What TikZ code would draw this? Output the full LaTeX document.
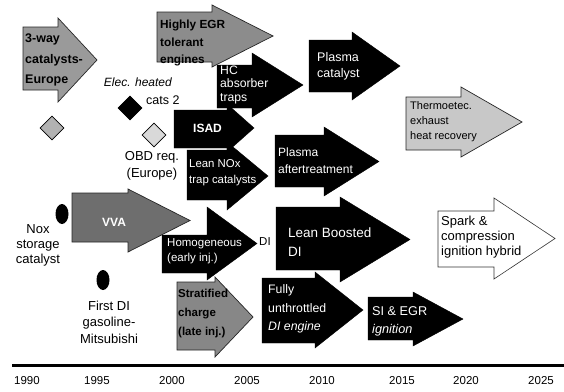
\documentclass[tikz,border=0pt]{standalone}
\usepackage{fontspec}
\setmainfont{Liberation Sans}
\usetikzlibrary{shapes.geometric}
% style, body left x, body top y, body bottom y, head x, head top y, head bottom y, tip x
\newcommand{\harrow}[8]{\path[#1] (#2,#3) -- (#5,#3) -- (#5,#6) -- (#8,{(#6+#7)/2}) -- (#5,#7) -- (#5,#4) -- (#2,#4) -- cycle;}
\newcommand{\fsz}[2]{\fontsize{#1}{#2}\selectfont}
\definecolor{gA}{HTML}{9A9A9A}
\definecolor{gB}{HTML}{8C8C8C}
\definecolor{gC}{HTML}{6E6E6E}
\definecolor{gD}{HTML}{878787}
\definecolor{gE}{HTML}{C8C8C8}
\tikzset{
  blk/.style={fill=black, draw=black},
  grey/.style={fill=#1, draw=black!85, line width=0.7pt},
  hollow/.style={fill=white, draw=black!80, line width=0.6pt},
  txt/.style={inner sep=0pt, align=left, anchor=west},
  wtxt/.style={txt, text=white},
  plain/.style={inner sep=0pt, align=center},
  dot/.style={ellipse, fill=black, inner sep=0pt, minimum width=13pt, minimum height=20pt},
  dmd/.style={diamond, draw=black, line width=0.8pt, fill=#1, inner sep=0pt, minimum width=24pt, minimum height=24pt},
  year/.style={inner sep=0pt, font=\fsz{11.5}{13}}
}
\begin{document}
\begin{tikzpicture}[x=1pt,y=-1pt]
\useasboundingbox (0,0) rectangle (564,391);
\fill[white] (0,0) rectangle (564,391);

% arrows
\harrow{grey=gA}{23}{27}{90}{58}{18}{102}{97}
\harrow{grey=gB}{157}{12}{62}{212}{5}{67}{273}
\harrow{blk}{309}{40}{92}{352}{32}{100}{400}
\harrow{blk}{217}{65}{108}{252}{53}{117}{303}
\harrow{blk}{174}{110}{148}{227}{104}{152}{254}
\harrow{blk}{187}{150}{200}{227}{142}{210}{268}
\harrow{blk}{275}{135}{187}{324}{127}{196}{379}
\harrow{grey=gE}{406}{97}{150}{461}{87}{157}{522}
\harrow{grey=gC}{72}{193}{242}{128}{189}{252}{190}
\harrow{blk}{162}{235}{273}{207}{207}{280}{257}
\harrow{blk}{276}{207}{270}{340}{197}{282}{410}
\harrow{hollow}{438}{211}{267}{494}{198}{279}{555}
\harrow{grey=gD}{177}{282}{350}{215}{277}{357}{253}
\harrow{blk}{262}{278}{343}{315}{272}{348}{363}
\harrow{blk}{368}{297}{340}{413}{292}{346}{463}

% arrow texts
\node[txt, font=\bfseries\fsz{12.5}{20.5}] (threeway) at (25,60) {3-way\\catalysts-\\Europe};
\node[txt, font=\bfseries\fsz{11.8}{17.5}] (egr) at (160,43) {Highly EGR\\tolerant\\engines};
\node[wtxt, font=\fsz{12.5}{16}] (plcat) at (317,66) {Plasma\\catalyst};
\node[wtxt, font=\fsz{12.2}{13.5}] (hc) at (220,85) {HC\\absorber\\traps};
\node[wtxt, font=\bfseries\fsz{12}{14}] (isad) at (193,128) {ISAD};
\node[wtxt, font=\fsz{11.4}{16}] (lnt) at (189,173) {Lean NOx\\trap catalysts};
\node[wtxt, font=\fsz{12}{17}] (plaft) at (278,161) {Plasma\\aftertreatment};
\node[txt, font=\fsz{11}{15}] (thermo) at (410,122) {Thermoetec.\\exhaust\\heat recovery};
\node[wtxt, font=\bfseries\fsz{12}{14}] (vva) at (102,222) {VVA};
\node[wtxt, font=\fsz{11.5}{15}] (homo) at (167,251) {Homogeneous\\(early inj.)};
\node[txt, font=\fsz{11.5}{14}] (di) at (259,242) {DI};
\node[wtxt, font=\fsz{13.5}{19}] (lbdi) at (288,242) {Lean Boosted\\DI};
\node[txt, font=\fsz{13}{15}] (spark) at (441,237) {Spark \&\\compression\\ignition hybrid};
\node[txt, font=\bfseries\fsz{11.5}{19}] (strat) at (178,314) {Stratified\\charge\\(late inj.)};
\node[wtxt, font=\fsz{12.3}{18.5}] (fully) at (268,309) {Fully\\unthrottled\\\textit{DI engine}};
\node[wtxt, font=\fsz{12.7}{18}] (siegr) at (372,321) {SI \& EGR\\\textit{ignition}};

% diamonds and dots
\node[dmd=black!30] (d1) at (52,128) {};
\node[dmd=black] (d2) at (130,108) {};
\node[dmd=black!15] (d3) at (154,135) {};
\node[dot] (nox) at (62,214) {};
\node[dot] (fdi) at (103,280) {};

% free labels
\node[plain, anchor=east, font=\itshape\fsz{12}{14}] (elec) at (172,82) {Elec. heated};
\node[plain, anchor=west, font=\fsz{12.5}{14}] (cats) at (146,100) {cats 2};
\node[plain, font=\fsz{13}{17}] (obd) at (152,166) {OBD req.\\(Europe)};
\node[plain, font=\fsz{13}{15}] (noxl) at (38,245) {Nox\\storage\\catalyst};
\node[plain, font=\fsz{13}{16.5}] (fdil) at (109,322) {First DI\\gasoline-\\Mitsubishi};

% time axis
\coordinate (axl) at (12,365);
\coordinate (axr) at (564,365);
\draw[line width=3pt] (axl) -- (axr);
\node[year] (y1990) at (27,381) {1990};
\node[year] (y1995) at (97,381) {1995};
\node[year] (y2000) at (172,381) {2000};
\node[year] (y2005) at (247,381) {2005};
\node[year] (y2010) at (322,381) {2010};
\node[year] (y2015) at (402,381) {2015};
\node[year] (y2020) at (466,381) {2020};
\node[year] (y2025) at (541,381) {2025};
\end{tikzpicture}
\end{document}
